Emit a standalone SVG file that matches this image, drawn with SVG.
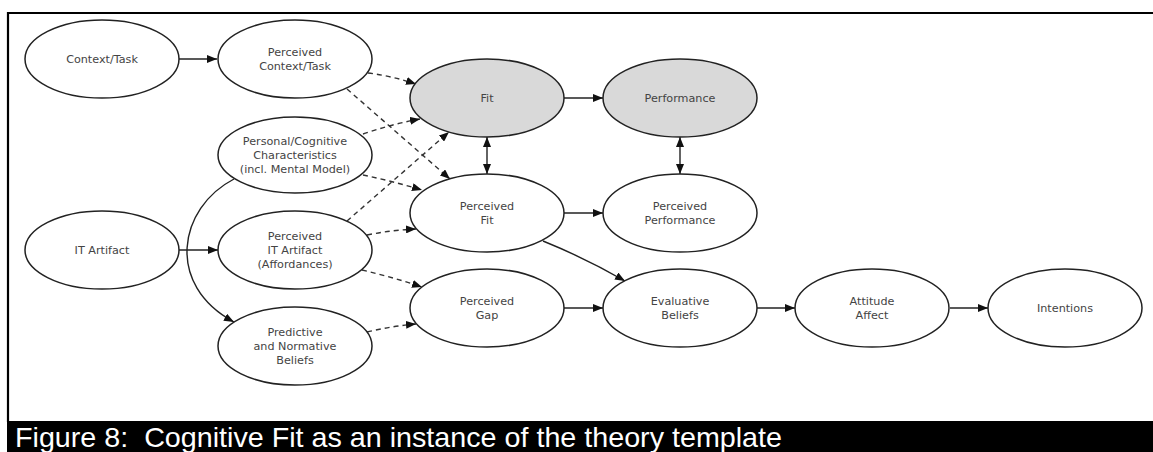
<svg xmlns="http://www.w3.org/2000/svg" width="1153" height="452" viewBox="0 0 1153 452">
  <defs>
    <style>
      .node ellipse { fill: #ffffff; stroke: #222222; stroke-width: 1.5; }
      .node.shaded ellipse { fill: #d9d9d9; }
      .node text { font-family: "DejaVu Sans", sans-serif; font-size: 11.2px; fill: #444444; text-anchor: middle; }
      .edge { fill: none; stroke: #222222; stroke-width: 1.4; }
      .dashed { stroke-dasharray: 5 4; stroke: #333333; }
      .solid { marker-end: url(#arrow); }
      .both { marker-start: url(#arrow); marker-end: url(#arrow); }
      .caption { font-family: "Liberation Sans", Arial, sans-serif; font-size: 28.5px; fill: #ffffff; }
    </style>
    <marker id="arrow" viewBox="0 0 10 8" refX="10" refY="4" markerWidth="10" markerHeight="8" markerUnits="userSpaceOnUse" orient="auto-start-reverse">
      <path d="M0,0 L10,4 L0,8 Z" fill="#111111"/>
    </marker>
  </defs>

  <rect x="0" y="0" width="1153" height="452" fill="#ffffff"/>

  <!-- frame -->
  <line x1="7" y1="13" x2="1153" y2="13" stroke="#000" stroke-width="2.2"/>
  <line x1="8" y1="12" x2="8" y2="422" stroke="#000" stroke-width="2.2"/>

  <!-- connectors -->
  <g id="connectors">
    <line class="edge solid" x1="179" y1="59" x2="217" y2="59"/>
    <line class="edge solid" x1="179" y1="250" x2="218" y2="250"/>
    <path class="edge solid" d="M234,179 C178,208 165,285 234,322"/>
    <line class="edge solid" x1="564" y1="98" x2="603" y2="98"/>
    <line class="edge both" x1="487" y1="137" x2="487" y2="174"/>
    <line class="edge both" x1="680" y1="137" x2="680" y2="174"/>
    <line class="edge solid" x1="564" y1="213" x2="603" y2="213"/>
    <path class="edge solid" d="M543,241 Q585,258 625,281"/>
    <line class="edge solid" x1="564" y1="308" x2="603" y2="308"/>
    <line class="edge solid" x1="757" y1="308" x2="795" y2="308"/>
    <line class="edge solid" x1="950" y1="308" x2="988" y2="308"/>

    <path class="edge dashed solid" d="M368,73 Q392,76 416,84"/>
    <path class="edge dashed solid" d="M347,89 L450,179"/>
    <path class="edge dashed solid" d="M363,134 Q392,124 420,119"/>
    <path class="edge dashed solid" d="M363,175 Q392,181 422,190"/>
    <path class="edge dashed solid" d="M347,221 L449,132"/>
    <path class="edge dashed solid" d="M367,235 Q392,230 416,229"/>
    <path class="edge dashed solid" d="M362,270 Q392,277 422,287"/>
    <path class="edge dashed solid" d="M367,332 Q392,326 416,324"/>
  </g>

  <!-- nodes -->
  <g id="context-task" class="node">
    <ellipse cx="102" cy="59" rx="77" ry="39"/>
    <text x="102" y="63">Context/Task</text>
  </g>
  <g id="perceived-context-task" class="node">
    <ellipse cx="295" cy="59" rx="77" ry="39"/>
    <text x="295" y="56">Perceived</text>
    <text x="295" y="70">Context/Task</text>
  </g>
  <g id="personal-cognitive" class="node">
    <ellipse cx="295" cy="155" rx="77" ry="38"/>
    <text x="295" y="145">Personal/Cognitive</text>
    <text x="295" y="159">Characteristics</text>
    <text x="295" y="173">(incl. Mental Model)</text>
  </g>
  <g id="fit" class="node shaded">
    <ellipse cx="487" cy="98" rx="77" ry="39"/>
    <text x="487" y="102">Fit</text>
  </g>
  <g id="performance" class="node shaded">
    <ellipse cx="680" cy="98" rx="77" ry="39"/>
    <text x="680" y="102">Performance</text>
  </g>
  <g id="perceived-fit" class="node">
    <ellipse cx="487" cy="213" rx="77" ry="39"/>
    <text x="487" y="210">Perceived</text>
    <text x="487" y="224">Fit</text>
  </g>
  <g id="perceived-performance" class="node">
    <ellipse cx="680" cy="213" rx="77" ry="39"/>
    <text x="680" y="210">Perceived</text>
    <text x="680" y="224">Performance</text>
  </g>
  <g id="it-artifact" class="node">
    <ellipse cx="102" cy="250" rx="77" ry="39"/>
    <text x="102" y="254">IT Artifact</text>
  </g>
  <g id="perceived-it-artifact" class="node">
    <ellipse cx="295" cy="250" rx="77" ry="39"/>
    <text x="295" y="240">Perceived</text>
    <text x="295" y="254">IT Artifact</text>
    <text x="295" y="268">(Affordances)</text>
  </g>
  <g id="predictive-normative" class="node">
    <ellipse cx="295" cy="346" rx="77" ry="39"/>
    <text x="295" y="336">Predictive</text>
    <text x="295" y="350">and Normative</text>
    <text x="295" y="364">Beliefs</text>
  </g>
  <g id="perceived-gap" class="node">
    <ellipse cx="487" cy="308" rx="77" ry="39"/>
    <text x="487" y="305">Perceived</text>
    <text x="487" y="319">Gap</text>
  </g>
  <g id="evaluative-beliefs" class="node">
    <ellipse cx="680" cy="308" rx="77" ry="39"/>
    <text x="680" y="305">Evaluative</text>
    <text x="680" y="319">Beliefs</text>
  </g>
  <g id="attitude-affect" class="node">
    <ellipse cx="872" cy="308" rx="77" ry="39"/>
    <text x="872" y="305">Attitude</text>
    <text x="872" y="319">Affect</text>
  </g>
  <g id="intentions" class="node">
    <ellipse cx="1065" cy="308" rx="77" ry="39"/>
    <text x="1065" y="312">Intentions</text>
  </g>

  <!-- caption band -->
  <rect x="7" y="421" width="1146" height="31" fill="#000000"/>
  <text class="caption" x="15" y="446.5" textLength="767" lengthAdjust="spacingAndGlyphs" xml:space="preserve">Figure 8:  Cognitive Fit as an instance of the theory template</text>
</svg>
